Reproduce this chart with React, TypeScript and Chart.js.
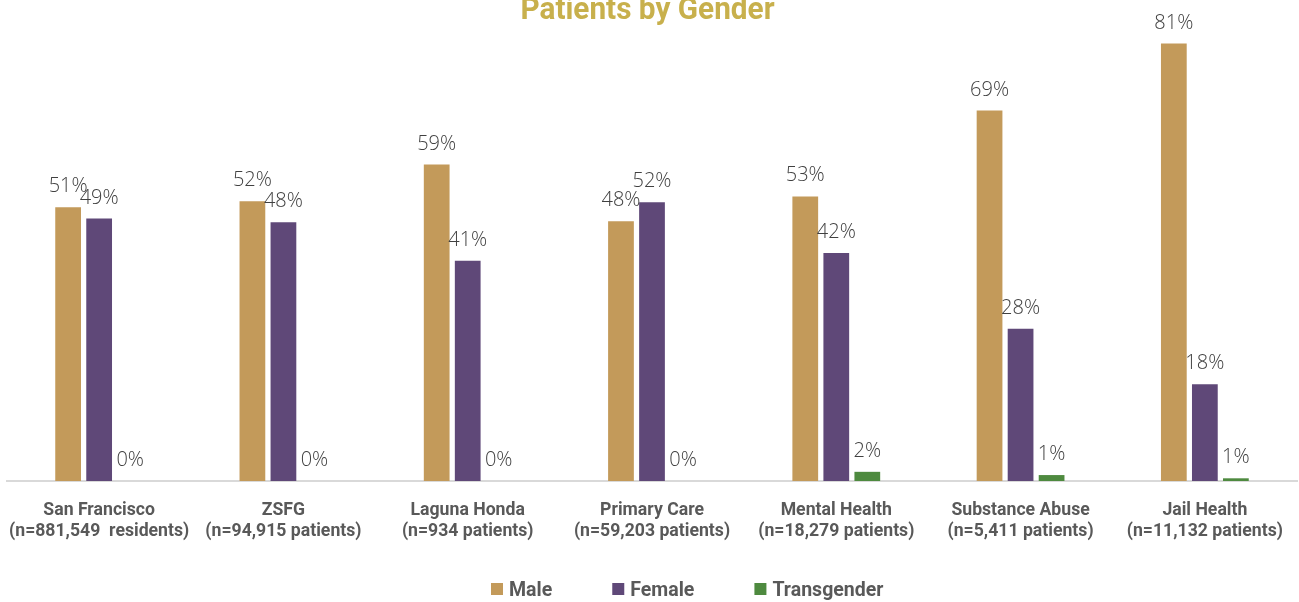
import React, { useEffect, useRef } from "react";
import { Chart, registerables } from "chart.js";

Chart.register(...registerables);

const categories: string[][] = [
  ["San Francisco", "(n=881,549  residents)"],
  ["ZSFG", "(n=94,915 patients)"],
  ["Laguna Honda", "(n=934 patients)"],
  ["Primary Care", "(n=59,203 patients)"],
  ["Mental Health", "(n=18,279 patients)"],
  ["Substance Abuse", "(n=5,411 patients)"],
  ["Jail Health", "(n=11,132 patients)"],
];
const male = [50.7, 51.8, 58.6, 48.1, 52.7, 68.6, 81.0];
const female = [48.6, 47.9, 40.8, 51.6, 42.2, 28.2, 17.9];
const transgender = [0, 0, 0, 0, 1.7, 1.1, 0.5];
const seriesNames = ["Male", "Female", "Transgender"];
const seriesColors = ["#C39A5A", "#5F4878", "#4E8A3F"];
const title = "Patients by Gender";

const COND = 'Roboto, "DejaVu Sans Condensed", sans-serif';

function drawCondensed(ctx: CanvasRenderingContext2D, text: string, x: number, y: number, sx: number, align: "left" | "center") {
  ctx.save();
  ctx.translate(x, y);
  ctx.scale(sx, 1);
  ctx.textAlign = align;
  ctx.fillText(text, 0, 0);
  ctx.restore();
}

const labelPlugin = {
  id: "barLabels",
  afterDatasetsDraw(chart: any) {
    const ctx = chart.ctx;
    ctx.save();
    ctx.font = '300 20px "Open Sans", "Noto Sans", sans-serif';
    ctx.fillStyle = "#404040";
    ctx.textAlign = "center";
    ctx.textBaseline = "alphabetic";
    chart.data.datasets.forEach((ds: any, i: number) => {
      const meta = chart.getDatasetMeta(i);
      meta.data.forEach((el: any, j: number) => {
        const v = ds.data[j];
        ctx.fillText(Math.round(v) + "%", el.x, el.y - 15);
      });
    });
    ctx.restore();
  },
};

const categoryLabelPlugin = {
  id: "categoryLabels",
  afterDraw(chart: any) {
    const ctx = chart.ctx;
    const xs = chart.scales.x;
    const base = chart.chartArea.bottom;
    ctx.save();
    ctx.font = "bold 18px " + COND;
    ctx.fillStyle = "#595959";
    ctx.textBaseline = "alphabetic";
    (chart.data.labels as string[][]).forEach((lines, i) => {
      const cx = xs.getPixelForTick(i);
      lines.forEach((line, k) => {
        drawCondensed(ctx, line, cx, base + 34 + k * 20.5, 0.98, "center");
      });
    });
    ctx.restore();
  },
};

const titlePlugin = {
  id: "topTitle",
  afterDraw(chart: any) {
    const ctx = chart.ctx;
    ctx.save();
    ctx.font = "bold 32px " + COND;
    ctx.fillStyle = "#C8B04C";
    ctx.textBaseline = "alphabetic";
    drawCondensed(ctx, title, chart.width / 2 - 2, 19, 0.93, "center");
    ctx.restore();
  },
};

const legendPlugin = {
  id: "customLegend",
  afterDraw(chart: any) {
    const ctx = chart.ctx;
    ctx.save();
    ctx.font = "bold 21px " + COND;
    ctx.textBaseline = "alphabetic";
    const sx = 0.93;
    let x = 491;
    const baseY = 596;
    chart.data.datasets.forEach((ds: any) => {
      ctx.fillStyle = ds.backgroundColor;
      ctx.fillRect(x, baseY - 13, 12, 12);
      ctx.fillStyle = "#595959";
      const tx = x + 18;
      drawCondensed(ctx, ds.label, tx, baseY, sx, "left");
      x = tx + ctx.measureText(ds.label).width * sx + 60;
    });
    ctx.restore();
  },
};

export default function App() {
  const ref = useRef<HTMLCanvasElement | null>(null);
  useEffect(() => {
    document.body.style.margin = "0";
    if (!ref.current) return;
    const data = [male, female, transgender];
    const chart = new Chart(ref.current, {
      type: "bar",
      data: {
        labels: categories,
        datasets: seriesNames.map((name, i) => ({
          label: name,
          data: data[i],
          backgroundColor: seriesColors[i],
          borderWidth: 0,
          barPercentage: 0.83,
          categoryPercentage: 0.505,
        })),
      },
      options: {
        animation: false,
        responsive: false,
        maintainAspectRatio: false,
        layout: { padding: { top: 22, left: 7, right: 2, bottom: 0 } },
        plugins: {
          legend: { display: false },
          title: { display: false },
          tooltip: { enabled: false },
        },
        scales: {
          x: {
            grid: { display: false, drawTicks: false },
            border: { display: true, color: "#D9D9D9", width: 2 },
            ticks: { display: false },
            afterFit(scale: any) {
              scale.height = 121;
              scale.paddingLeft = 0;
              scale.paddingRight = 0;
            },
          },
          y: {
            display: false,
            min: 0,
            max: 85,
          },
        },
      },
      plugins: [labelPlugin, categoryLabelPlugin, titlePlugin, legendPlugin],
    });
    return () => chart.destroy();
  }, []);
  return <canvas ref={ref} width={1299} height={602} style={{ display: "block" }} />;
}
